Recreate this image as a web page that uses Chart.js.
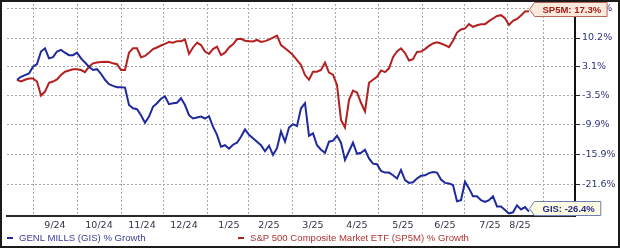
<!DOCTYPE html>
<html>
<head>
<meta charset="utf-8">
<script src="https://cdn.jsdelivr.net/npm/chart.js@4.4.1/dist/chart.umd.min.js"></script>
<style>
  html, body { margin: 0; padding: 0; background: #fff; }
  #frame { position: relative; width: 620px; height: 248px; box-sizing: border-box; border: 2px solid #1b1b1b; background: #fff; overflow: hidden; }
  #chart { position: absolute; left: 0; top: 0; }
  .legend { position: absolute; top: 230px; line-height: 11px; font: 9.6px "Liberation Sans", Arial, sans-serif; white-space: nowrap; }
  .legend i { display: inline-block; width: 6px; height: 2px; vertical-align: middle; margin-right: 6px; }
</style>
</head>
<body>
<div id="frame">
  <canvas id="chart" width="616" height="244"></canvas>
  <div class="legend" style="left:5px;color:#3a3d94"><i style="background:#1f2a9c"></i>GENL MILLS (GIS) % Growth</div>
  <div class="legend" style="left:236px;color:#b03434"><i style="background:#b3201f"></i>S&amp;P 500 Composite Market ETF (SP5M) % Growth</div>
</div>
<script>
// % growth since start, one sample roughly every 2 trading days
const gisGrowth = [
  0, 0.7, 1.1, 1.5, 3.1, 3.7, 6.8, 7.6, 5.1, 5.4,
  6.8, 7.2, 6.5, 5.9, 5.9, 6.5, 5.1, 4.1, 3.1, 2.3,
  2.5, 1.4, 0.0, -1.0, -1.4, -1.7, -1.7, -1.8, -5.7, -6.4,
  -6.6, -7.9, -9.5, -8.2, -6.1, -5.3, -4.3, -3.8, -5.5, -5.3,
  -5.2, -4.2, -5.7, -7.9, -8.6, -8.4, -8.2, -8.6, -8.1, -10.3,
  -12.0, -14.4, -14.1, -14.8, -14.0, -13.6, -12.4, -10.9, -12.0, -12.7,
  -13.4, -14.1, -15.3, -14.2, -16.0, -14.7, -11.3, -13.4, -10.5, -9.8,
  -10.2, -6.4, -5.3, -12.2, -11.7, -14.1, -15.0, -15.6, -13.4, -13.2,
  -12.2, -13.6, -17.0, -15.3, -13.6, -15.8, -15.6, -15.0, -16.7, -17.7,
  -17.8, -19.1, -19.4, -19.4, -19.9, -20.5, -18.9, -20.8, -21.3, -21.2,
  -20.5, -20.0, -19.9, -19.5, -19.3, -19.4, -20.7, -21.3, -21.4, -21.7,
  -24.6, -24.4, -21.1, -22.3, -23.7, -23.7, -24.4, -24.7, -24.4, -23.7,
  -25.5, -25.5, -26.1, -26.7, -26.5, -25.3, -26.0, -25.6, -26.4
];
const sp5mGrowth = [
  0, -0.4, 0.0, 0.3, 0.3, -0.4, -3.6, -2.7, -0.7, -0.4,
  0.1, 1.1, 1.9, 2.2, 2.5, 2.5, 2.3, 1.8, 3.1, 3.9,
  4.1, 4.2, 4.3, 4.2, 3.9, 3.7, 2.3, 2.3, 6.5, 7.6,
  7.6, 5.4, 5.7, 6.5, 7.4, 7.8, 8.3, 8.7, 9.2, 9.0,
  9.4, 9.4, 9.8, 6.2, 7.8, 9.0, 8.4, 6.8, 6.2, 7.4,
  8.0, 5.9, 6.5, 7.8, 8.6, 9.9, 10.0, 9.5, 9.4, 9.3,
  9.7, 9.2, 9.4, 9.8, 10.3, 10.8, 8.4, 7.6, 6.8, 5.9,
  4.7, 3.5, 1.1, 0.0, 1.9, 1.9, 2.3, 4.1, 1.7, 1.2,
  -1.2, -8.9, -10.5, -4.6, -2.5, -2.9, -5.2, -7.1, -0.7, 0.0,
  0.7, 2.2, 1.8, 2.7, 5.4, 6.8, 7.6, 6.4, 4.6, 4.9,
  6.7, 6.8, 7.4, 8.2, 8.8, 9.1, 8.8, 8.4, 7.9, 9.5,
  11.6, 12.4, 12.7, 13.8, 13.1, 13.5, 13.8, 13.8, 14.6, 15.3,
  16.0, 16.2, 15.4, 13.6, 14.7, 15.2, 16.1, 17.2, 17.3
];

// month boundaries (grid lines) and month label centres, in sample units
const monthGridAt = [4, 15, 26, 36.5, 47.5, 57.75, 68.75, 79.5, 90.25, 101.25, 111.75, 122.5, 131.5];
const monthLabels = ['9/24', '10/24', '11/24', '12/24', '1/25', '2/25', '3/25', '4/25', '5/25', '6/25', '7/25', '8/25'];
const monthLabelAt = [9.5, 20.5, 31.25, 41.75, 53, 63, 74, 85, 96.5, 107, 118.25, 125.75];

// right axis ticks, % growth (log-of-growth scale)
const yTickValues = [18.0, 10.2, 3.1, -3.5, -9.9, -15.9, -21.6];

const toRatio = p => 1 + p / 100;
const toPoints = arr => arr.map((v, i) => ({ x: i, y: toRatio(v) }));

const tagStyles = [
  { name: 'GIS', fill: '#fcfbe4', stroke: '#6f7db3', text: '#262a86' },
  { name: 'SP5M', fill: '#fbeadb', stroke: '#b8675c', text: '#a01c1c' }
];

const endTags = {
  id: 'endTags',
  afterDatasetsDraw(chart) {
    const ctx = chart.ctx;
    const area = chart.chartArea;
    chart.data.datasets.forEach((ds, di) => {
      const meta = chart.getDatasetMeta(di);
      const pt = meta.data[meta.data.length - 1];
      const st = tagStyles[di];
      const text = st.name + ': ' + ds.growth[ds.growth.length - 1].toFixed(1) + '%';
      ctx.save();
      ctx.font = 'bold 9.5px "Liberation Sans", Arial, sans-serif';
      const w = ctx.measureText(text).width + 14;
      const h = 14;
      const tip = Math.round(pt.x) + 0.5;
      let cy = Math.round(pt.y) - 1.5;
      cy = Math.min(Math.max(cy, h / 2 + 0.5), area.bottom - h / 2 - 0.5);
      ctx.beginPath();
      ctx.moveTo(tip, cy);
      ctx.lineTo(tip + 5, cy - h / 2);
      ctx.lineTo(tip + 5 + w, cy - h / 2);
      ctx.lineTo(tip + 5 + w, cy + h / 2);
      ctx.lineTo(tip + 5, cy + h / 2);
      ctx.closePath();
      ctx.fillStyle = st.fill;
      ctx.fill();
      ctx.lineWidth = 1;
      ctx.strokeStyle = st.stroke;
      ctx.stroke();
      ctx.fillStyle = st.text;
      ctx.textBaseline = 'middle';
      ctx.textAlign = 'left';
      ctx.fillText(text, tip + 13, cy + 0.5);
      ctx.restore();
    });
  }
};

new Chart(document.getElementById('chart'), {
  type: 'line',
  data: {
    datasets: [
      { label: 'GENL MILLS (GIS) % Growth', growth: gisGrowth, data: toPoints(gisGrowth),
        borderColor: '#1f2a9c', borderWidth: 2, pointRadius: 0, tension: 0 },
      { label: 'S&P 500 Composite Market ETF (SP5M) % Growth', growth: sp5mGrowth, data: toPoints(sp5mGrowth),
        borderColor: '#b3201f', borderWidth: 2, pointRadius: 0, tension: 0 }
    ]
  },
  options: {
    responsive: false,
    animation: false,
    devicePixelRatio: 1,
    layout: { padding: { left: 5, top: 2, right: 0, bottom: 0 } },
    plugins: { legend: { display: false }, tooltip: { enabled: false } },
    scales: {
      x: {
        type: 'linear',
        min: -2.5,
        max: 139.5,
        afterBuildTicks: s => {
          s.ticks = monthGridAt.map(v => ({ value: v })).concat(monthLabelAt.map(v => ({ value: v })));
        },
        afterFit: s => { s.height = 30; s.paddingLeft = 0; s.paddingRight = 0; },
        grid: {
          color: c => (c.tick && monthGridAt.includes(c.tick.value)) ? '#a9a9a9' : 'rgba(0,0,0,0)',
          lineWidth: 1,
          drawTicks: false
        },
        border: { display: true, color: '#2a2a2a', width: 2, dash: [2, 2] },
        ticks: {
          autoSkip: false,
          maxRotation: 0,
          padding: 4,
          color: '#333344',
          font: { family: '"DejaVu Sans", Verdana, sans-serif', size: 9.5 },
          callback: v => {
            const k = monthLabelAt.indexOf(v);
            return k >= 0 ? monthLabels[k] : '';
          }
        }
      },
      y: {
        type: 'logarithmic',
        position: 'right',
        min: 0.7287,
        max: 1.1926,
        afterBuildTicks: s => { s.ticks = yTickValues.map(v => ({ value: toRatio(v) })); },
        afterFit: s => { s.width = 43; s.paddingTop = 0; s.paddingBottom = 0; },
        grid: {
          color: '#a9a9a9',
          lineWidth: 1,
          tickLength: 5,
          tickColor: '#222',
          tickWidth: 1
        },
        border: { display: true, color: '#111', width: 2, dash: [2, 2] },
        ticks: {
          padding: 2,
          color: '#2f3478',
          font: { family: '"DejaVu Sans", Verdana, sans-serif', size: 9.5 },
          callback: v => ((v - 1) * 100).toFixed(1) + '%'
        }
      }
    }
  },
  plugins: [endTags]
});
</script>
</body>
</html>
